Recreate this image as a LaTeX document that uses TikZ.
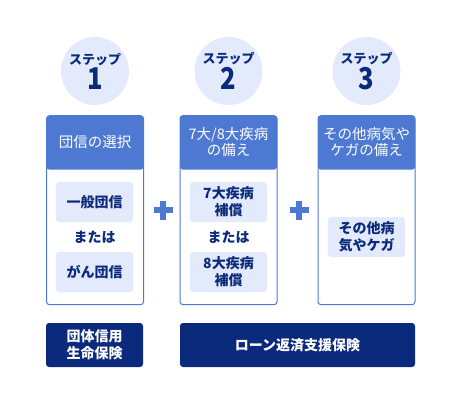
\documentclass[tikz,border=0pt]{standalone}
\usepackage{fontspec}
\setmainfont{Noto Sans CJK JP}
\usepackage{xcolor}
\usetikzlibrary{positioning}
\definecolor{headblue}{HTML}{4D79D2}
\definecolor{navy}{HTML}{0B2A7C}
\definecolor{paleblue}{HTML}{E2EAFB}
\tikzstyle{stepcircle} = [circle, minimum size=68pt, inner sep=0pt, fill=paleblue, text=navy, align=center]
\tikzstyle{column} = [rectangle, rounded corners=3pt, minimum width=97pt, minimum height=189pt, draw=headblue, line width=1pt,
  path picture={\fill[headblue] (path picture bounding box.north west) rectangle ([yshift=-54pt]path picture bounding box.north east);}]
\tikzstyle{header} = [text=white, align=center, font=\fontsize{14.5}{16.5}\selectfont]
\tikzstyle{choice} = [rectangle, rounded corners=3pt, minimum width=77pt, minimum height=40pt, fill=paleblue, text=navy, align=center, font=\fontsize{14}{17}\selectfont\bfseries]
\tikzstyle{ortext} = [text=navy, font=\fontsize{14}{17}\selectfont\bfseries]
\tikzstyle{insurance} = [rectangle, rounded corners=3pt, minimum height=44pt, fill=navy, text=white, align=center, font=\fontsize{14}{17}\selectfont\bfseries]
\tikzstyle{plussign} = [headblue, line width=6pt]
\newcommand{\stepnum}[1]{{\fontsize{13}{14}\selectfont\bfseries ステップ}\\[1pt]{\fontsize{30}{20}\selectfont\bfseries\scalebox{0.85}[1]{#1}}}

\begin{document}
\begin{tikzpicture}[x=1pt, y=1pt]
    \useasboundingbox (0,0) rectangle (462,-404);
    % steps
    \node(step1)[stepcircle] at (95,-71){\stepnum{1}};
    \node(step2)[stepcircle] at (228.5,-71){\stepnum{2}};
    \node(step3)[stepcircle] at (366.5,-71){\stepnum{3}};

    % columns
    \node(col1)[column, below=10pt of step1.south, anchor=north] {};
    \node(col2)[column, below=10pt of step2.south, anchor=north] {};
    \node(col3)[column, below=10pt of step3.south, anchor=north] {};
    \node(head1)[header, below=27pt of col1.north, anchor=center]{団信の選択};
    \node(head2)[header, below=27pt of col2.north, anchor=center]{7大/8大疾病\\の備え};
    \node(head3)[header, below=27pt of col3.north, anchor=center]{その他病気や\\ケガの備え};

    \node(ippan)[choice] at (94.5,-202){一般団信};
    \node(or1)[ortext] at (94.5,-237){または};
    \node(gan)[choice] at (94.5,-272){がん団信};

    \node(shippei7)[choice] at (228.5,-202){7大疾病\\補償};
    \node(or2)[ortext] at (228.5,-237){または};
    \node(shippei8)[choice] at (228.5,-272){8大疾病\\補償};

    \node(sonota)[choice] at (366.5,-237){その他病\\気やケガ};

    % plus signs
    \coordinate(plus1) at (163,-210);
    \coordinate(plus2) at (299,-210);
    \foreach \p in {plus1, plus2}{
      \draw[plussign] ([xshift=-9.5pt]\p) -- ([xshift=9.5pt]\p) ([yshift=-9.5pt]\p) -- ([yshift=9.5pt]\p);
    }

    % insurance
    \node(dantai)[insurance, minimum width=97pt] at (94.5,-345){団体信用\\生命保険};
    \node(loan)[insurance, minimum width=235pt] at (297.5,-345){ローン返済支援保険};
  \end{tikzpicture}
\end{document}
